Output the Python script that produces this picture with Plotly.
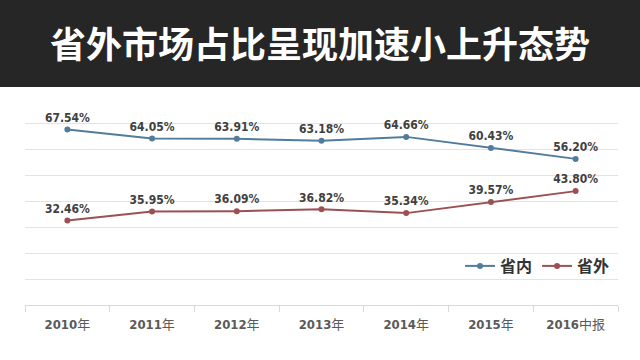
import plotly.graph_objects as go

categories = ["2010年", "2011年", "2012年", "2013年", "2014年", "2015年", "2016中报"]
tick_labels = ["<b>2010</b>年", "<b>2011</b>年", "<b>2012</b>年", "<b>2013</b>年",
               "<b>2014</b>年", "<b>2015</b>年", "<b>2016</b>中报"]
inside_vals = [67.54, 64.05, 63.91, 63.18, 64.66, 60.43, 56.20]
outside_vals = [32.46, 35.95, 36.09, 36.82, 35.34, 39.57, 43.80]
series_names = ["省内", "省外"]
title_text = "省外市场占比呈现加速小上升态势"

blue = "#527c9c"
red = "#9c5054"
narrow = "DejaVu Sans Condensed, Liberation Sans Narrow, sans-serif"
label_font = dict(family=narrow, size=12, color="#404040")

fig = go.Figure()
for name, vals, col in [(series_names[0], inside_vals, blue), (series_names[1], outside_vals, red)]:
    fig.add_trace(go.Scatter(
        x=categories, y=vals, name=f"<b>{name}</b>", mode="lines+markers+text",
        line=dict(color=col, width=2), marker=dict(color=col, size=6),
        text=[f"<b>{v:.2f}%</b>" for v in vals], textposition="top center",
        textfont=label_font, cliponaxis=False,
    ))

fig.add_shape(type="rect", xref="paper", yref="paper",
              x0=-0.1, x1=1.1, y0=(305 - 87) / 208, y1=1.6,
              fillcolor="#262626", line=dict(width=0), layer="above")

fig.update_layout(
    width=640, height=360,
    margin=dict(l=25, r=22, t=97, b=55),
    paper_bgcolor="white", plot_bgcolor="white",
    title=dict(text=f"<b>{title_text}</b>", x=0.5, xanchor="center",
               y=1 - 45 / 360, yanchor="middle",
               font=dict(family="Noto Sans CJK SC", size=36, color="white")),
    legend=dict(orientation="h", x=0.995, xanchor="right", y=(305 - 266) / 208,
                yanchor="middle", itemwidth=30, bgcolor="rgba(0,0,0,0)",
                font=dict(family="Noto Sans CJK SC", size=16, color="#333333"),
                traceorder="normal", tracegroupgap=0),
    showlegend=True,
    xaxis=dict(type="category", tickvals=categories, ticktext=tick_labels,
               range=[-0.5, len(categories) - 0.5],
               showgrid=False, showline=True, linecolor="#d9d9d9", linewidth=1,
               ticks="outside", tickson="boundaries", ticklen=6, tickcolor="#d9d9d9",
               ticklabelstandoff=7,
               tickfont=dict(family="DejaVu Sans Condensed, Noto Sans CJK SC, sans-serif",
                             size=13, color="#5a5a5a"),
               fixedrange=True),
    yaxis=dict(range=[0, 80], dtick=10, showgrid=True, gridcolor="#e3e3e3",
               gridwidth=1, showticklabels=False, zeroline=False, showline=False,
               fixedrange=True),
)

fig.write_html("out.html", config={"displayModeBar": False},
               post_script="document.body.style.margin='0';document.body.style.padding='0';")
